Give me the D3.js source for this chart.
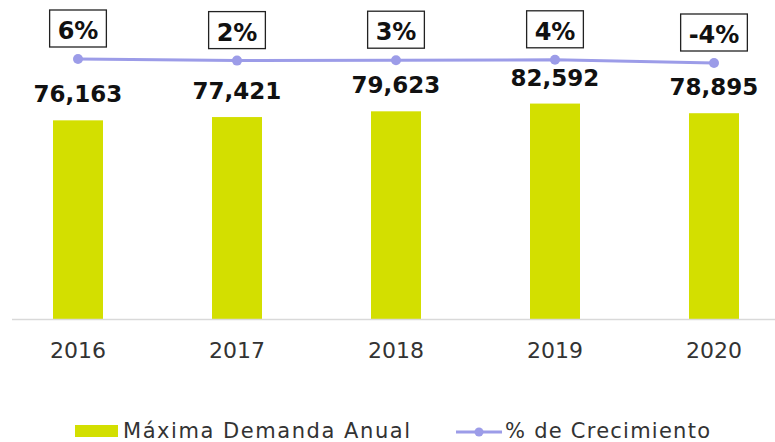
<!DOCTYPE html>
<html>
<head>
<meta charset="utf-8">
<script src="https://cdn.jsdelivr.net/npm/d3@7"></script>
<style>
	body { margin: 0; background: #fff; }
	svg { display: block; }
</style>
</head>
<body>
<script>
//chart data
var years = ["2016", "2017", "2018", "2019", "2020"];
var demanda = [76163, 77421, 79623, 82592, 78895];
var crecimiento = [6, 2, 3, 4, -4];

//draw when window loads
window.onload = drawChart;

function drawChart(){

	var width = 775,
		height = 442;

	var barColor = "#d3df00",
		lineColor = "#9c9ce8";

	var svg = d3.select("body")
		.append("svg")
		.attr("width", width)
		.attr("height", height);

	//scales
	var x = d3.scaleBand()
		.domain(years)
		.range([-1.5, 793.5])
		.paddingInner(109 / 159)
		.paddingOuter(109 / 318);

	var y = d3.scaleLinear()
		.domain([0, 120000])
		.range([319, 6]);

	//secondary axis for the growth line
	var y2 = d3.scaleLinear()
		.domain([-4, 6])
		.range([63, 59]);

	var fmt = d3.format(",");

	//bars
	svg.selectAll(".bar")
		.data(demanda)
		.enter()
		.append("rect")
		.attr("class", "bar")
		.attr("x", function(d, i){ return x(years[i]); })
		.attr("y", function(d){ return y(d); })
		.attr("width", x.bandwidth())
		.attr("height", function(d){ return y(0) - y(d); })
		.attr("fill", barColor);

	//baseline
	svg.append("line")
		.attr("x1", 12)
		.attr("x2", width)
		.attr("y1", y(0) + 0.5)
		.attr("y2", y(0) + 0.5)
		.attr("stroke", "#d9d9d9")
		.attr("stroke-width", 1.5);

	//x axis labels
	svg.selectAll(".year")
		.data(years)
		.enter()
		.append("text")
		.attr("class", "year")
		.attr("x", function(d){ return x(d) + x.bandwidth() / 2; })
		.attr("y", 358)
		.attr("text-anchor", "middle")
		.attr("font-family", "DejaVu Sans")
		.attr("font-size", 22)
		.attr("fill", "#333")
		.text(function(d){ return d; });

	//value labels
	svg.selectAll(".val")
		.data(demanda)
		.enter()
		.append("text")
		.attr("class", "val")
		.attr("x", function(d, i){ return x(years[i]) + x.bandwidth() / 2; })
		.attr("y", function(d){ return y(d) - 18; })
		.attr("text-anchor", "middle")
		.attr("font-family", "DejaVu Sans")
		.attr("font-weight", "bold")
		.attr("font-size", 23)
		.attr("fill", "#111")
		.text(function(d){ return fmt(d); });

	//growth line
	var line = d3.line()
		.x(function(d, i){ return x(years[i]) + x.bandwidth() / 2; })
		.y(function(d){ return y2(d); });

	svg.append("path")
		.datum(crecimiento)
		.attr("d", line)
		.attr("fill", "none")
		.attr("stroke", lineColor)
		.attr("stroke-width", 3);

	svg.selectAll(".dot")
		.data(crecimiento)
		.enter()
		.append("circle")
		.attr("class", "dot")
		.attr("cx", function(d, i){ return x(years[i]) + x.bandwidth() / 2; })
		.attr("cy", function(d){ return y2(d); })
		.attr("r", 5)
		.attr("fill", lineColor);

	//boxed percentage labels
	var pct = svg.selectAll(".pct")
		.data(crecimiento)
		.enter()
		.append("g")
		.attr("class", "pct")
		.attr("transform", function(d, i){
			return "translate(" + (x(years[i]) + x.bandwidth() / 2) + "," + (y2(d) - 20) + ")";
		});

	pct.append("text")
		.attr("text-anchor", "middle")
		.attr("font-family", "DejaVu Sans")
		.attr("font-weight", "bold")
		.attr("font-size", 24)
		.attr("fill", "#111")
		.text(function(d){ return d + "%"; });

	pct.each(function(){
		var g = d3.select(this);
		var bb = g.select("text").node().getBBox();
		g.insert("rect", "text")
			.attr("x", bb.x - 8)
			.attr("y", -29)
			.attr("width", bb.width + 16)
			.attr("height", 37)
			.attr("fill", "#fff")
			.attr("stroke", "#222")
			.attr("stroke-width", 1.3);
	});

	//legend
	var legend = svg.append("g");

	legend.append("rect")
		.attr("x", 75)
		.attr("y", 425)
		.attr("width", 43)
		.attr("height", 12)
		.attr("fill", barColor);

	legend.append("text")
		.attr("x", 123)
		.attr("y", 438)
		.attr("font-family", "DejaVu Sans")
		.attr("font-size", 21)
		.attr("fill", "#333")
		.attr("textLength", 287)
		.attr("lengthAdjust", "spacing")
		.text("Máxima Demanda Anual");

	legend.append("line")
		.attr("x1", 456)
		.attr("x2", 502)
		.attr("y1", 432)
		.attr("y2", 432)
		.attr("stroke", lineColor)
		.attr("stroke-width", 3);

	legend.append("circle")
		.attr("cx", 479)
		.attr("cy", 432)
		.attr("r", 4.5)
		.attr("fill", lineColor);

	legend.append("text")
		.attr("x", 505)
		.attr("y", 438)
		.attr("font-family", "DejaVu Sans")
		.attr("font-size", 21)
		.attr("fill", "#333")
		.attr("textLength", 205)
		.attr("lengthAdjust", "spacing")
		.text("% de Crecimiento");
};
</script>
</body>
</html>
